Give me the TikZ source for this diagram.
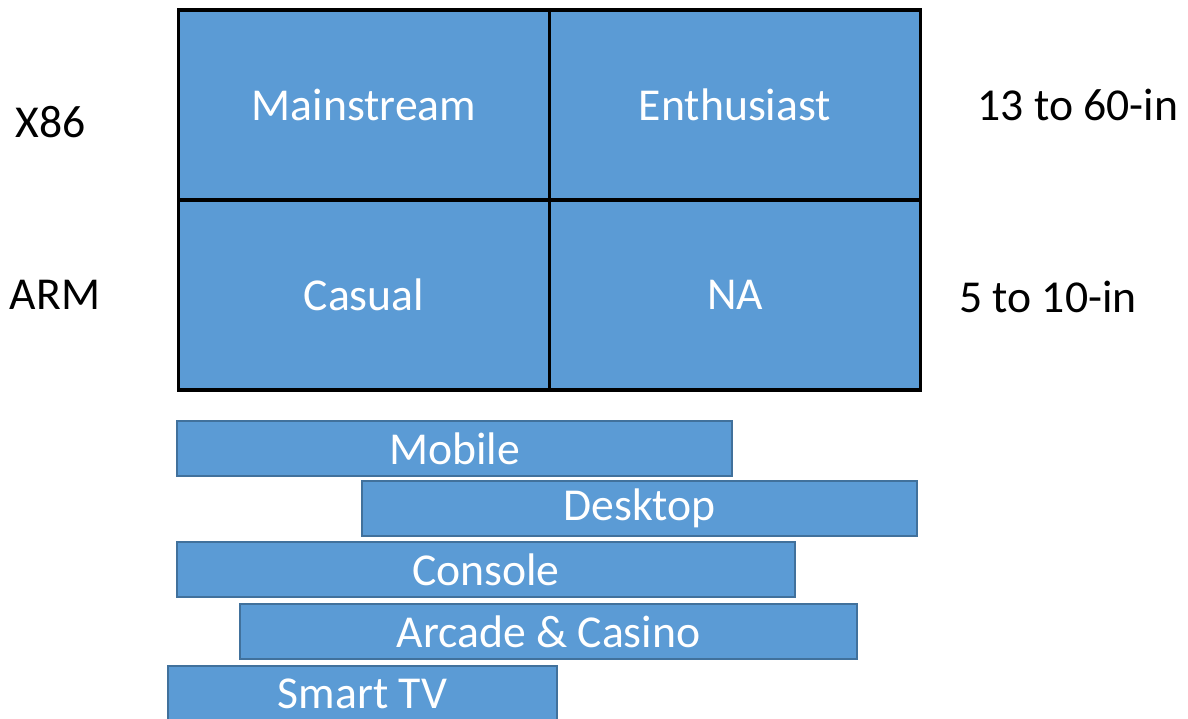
\documentclass[tikz,border=0pt]{standalone}
\usepackage{fontspec}
\setmainfont{Carlito}
\usepackage{tikz}
\usetikzlibrary{positioning, calc}

\definecolor{tileblue}{RGB}{91,155,213}
\definecolor{barline}{RGB}{65,113,156}

\begin{document}
\begin{tikzpicture}[x=0.02cm, y=-0.02cm,
        every node/.style={font=\fontsize{26}{30}\selectfont, inner sep=0pt},
        cell/.style={draw=black, line width=2.2pt, fill=tileblue, text=white,
            minimum width=7.42cm, minimum height=3.8cm},
        platform/.style={draw=barline, line width=1.1pt, fill=tileblue, text=white,
            minimum height=1.1cm}]
            \useasboundingbox (0,0) rectangle (1188,719);

            % 2x2 grid
            \node[cell] (main) at (364,105) {Mainstream};
            \node[cell] (enth) at (735,105) {Enthusiast};
            \node[cell] (casual) at (364,295) {Casual};
            \node[cell] (na) at (735,295) {NA};

            % row and size labels
            \node (x86) at (51,122) {X86};
            \node (arm) at (55,295) {ARM};
            \node (big) at (1078,105) {13 to 60-in};
            \node (small) at (1048,297) {5 to 10-in};

            % platform bars
            \node[platform, minimum width=11.1cm] (mobile) at (454.5,448.5) {Mobile};
            \node[platform, minimum width=11.1cm] (desktop) at (639.5,508.5) {Desktop};
            \node[platform, minimum width=12.36cm] (console) at (486,569.5) {Console};
            \node[platform, minimum width=12.34cm] (arcade) at (548.5,631.5) {Arcade \& Casino};
            \node[platform, minimum width=7.78cm] (tv) at (362.5,693.5) {Smart TV};
        \end{tikzpicture}
\end{document}
